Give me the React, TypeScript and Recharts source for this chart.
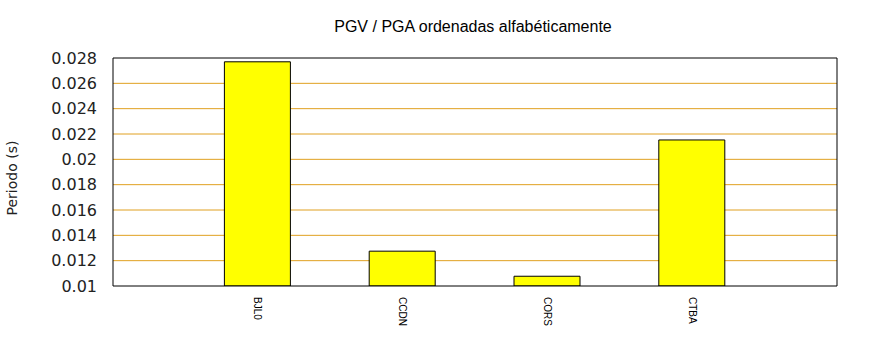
import { BarChart, Bar, XAxis, YAxis, CartesianGrid } from 'recharts'

const stations = ['BJL0', 'CCDN', 'CORS', 'CTBA']
const periods = [0.0277, 0.01275, 0.01077, 0.02153]
const yTicks = [0.01, 0.012, 0.014, 0.016, 0.018, 0.02, 0.022, 0.024, 0.026, 0.028]
const xTicks = [1, 2, 3, 4]

const chartData = stations.map((name, i) => ({ pos: i + 1, name, period: periods[i] }))

const gridColor = '#e0a020'

function StationTick(props: any) {
  const { x, y, payload } = props
  const label = stations[payload.value - 1] ?? ''
  return (
    <text
      x={0}
      y={0}
      transform={`translate(${x},${y + 3}) rotate(90)`}
      textAnchor="start"
      dominantBaseline="central"
      fontSize={10}
      fontFamily="Liberation Sans, Arial, sans-serif"
      fill="#000"
    >
      {label}
    </text>
  )
}

export default function App() {
  return (
    <div style={{ position: 'absolute', left: 0, top: 0, width: 870, height: 350, background: '#fff' }}>
      <BarChart
        width={870}
        height={350}
        data={chartData}
        margin={{ top: 57, right: 33, bottom: 0, left: 0 }}
      >
        <text
          x={473}
          y={32}
          textAnchor="middle"
          fontSize={16}
          fontFamily="Liberation Sans, Arial, sans-serif"
          fill="#000"
        >
          PGV / PGA ordenadas alfabéticamente
        </text>
        <text
          x={0}
          y={0}
          transform="translate(17,178) rotate(-90)"
          textAnchor="middle"
          fontSize={14}
          fontFamily="DejaVu Sans, sans-serif"
          fill="#222"
        >
          Periodo (s)
        </text>
        <CartesianGrid vertical={false} stroke={gridColor} horizontalValues={yTicks.slice(1, -1)} />
        <XAxis
          dataKey="pos"
          type="number"
          domain={[0, 5]}
          ticks={xTicks}
          height={64}
          axisLine={{ stroke: '#000' }}
          tickLine={false}
          tick={<StationTick />}
        />
        <XAxis
          xAxisId="top"
          orientation="top"
          type="number"
          domain={[0, 5]}
          height={1}
          tick={false}
          tickLine={false}
          axisLine={{ stroke: '#000' }}
        />
        <YAxis
          type="number"
          domain={[0.01, 0.028]}
          ticks={yTicks}
          allowDataOverflow
          width={113}
          axisLine={{ stroke: '#000' }}
          tickLine={false}
          tickSize={0}
          tickMargin={16}
          tickFormatter={(v: number) => String(Number(v.toFixed(3)))}
          tick={{ fontSize: 16, fontFamily: 'DejaVu Sans, sans-serif', fill: '#222' }}
        />
        <YAxis
          yAxisId="right"
          orientation="right"
          type="number"
          domain={[0.01, 0.028]}
          ticks={yTicks}
          width={1}
          mirror
          tickSize={4}
          axisLine={{ stroke: '#000' }}
          tickLine={{ stroke: '#000' }}
          tickFormatter={() => ''}
        />
        <Bar
          dataKey="period"
          barSize={66}
          fill="#ffff00"
          stroke="#000"
          strokeWidth={1}
          isAnimationActive={false}
        />
      </BarChart>
    </div>
  )
}
